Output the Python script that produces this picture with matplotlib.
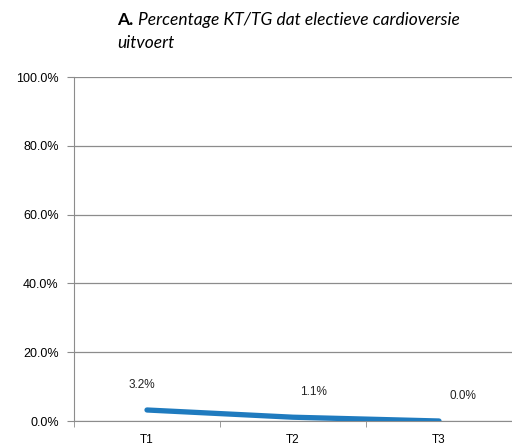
import matplotlib.pyplot as plt
import numpy as np

categories = ['T1', 'T2', 'T3']
values = [3.2, 1.1, 0.0]
labels = ['3.2%', '1.1%', '0.0%']
label_dx = [-5, 20, 24]

fig = plt.figure(figsize=(5.12, 4.44), dpi=100)
ax = fig.add_axes([74 / 512, 1 - 421 / 444, 1 - 74 / 512, (421 - 77) / 444])

x = np.arange(len(categories))
ax.plot(x, values, color='#1f7bbf', linewidth=3.8, solid_capstyle='round', zorder=3)

for i in range(len(values)):
	ax.annotate(labels[i], (x[i], values[i]), xytext=(label_dx[i] * 0.72, 18),
		textcoords='offset points', ha='center', va='center',
		fontsize=8.5, family='Liberation Sans', color='#222222')

ax.set_xlim(-0.5, 2.5)
ax.set_ylim(0, 100)
ax.set_yticks(np.arange(0, 101, 20))
ax.set_yticklabels(['%.1f%%' % v for v in np.arange(0, 101, 20)], family='Liberation Sans', fontsize=9)
ax.grid(axis='y', color='#8c8c8c', linewidth=0.9)
ax.set_axisbelow(True)

ax.set_xticks(x)
ax.set_xticklabels(categories, family='Liberation Sans', fontsize=8.5)
ax.set_xticks([-0.5, 0.5, 1.5, 2.5], minor=True)
ax.tick_params(axis='x', which='major', length=0, pad=9)
ax.tick_params(axis='x', which='minor', length=4, color='#8c8c8c', direction='out')
ax.tick_params(axis='y', length=5, color='#8c8c8c', pad=6)

for s in ['top', 'right']:
	ax.spines[s].set_visible(False)
ax.spines['left'].set_color('#8c8c8c')
ax.spines['bottom'].set_color('#8c8c8c')

fig.text(117 / 512, 1 - 20 / 444, 'A.', fontsize=12.5, fontweight='bold', family='Lato', va='center')
fig.text(138 / 512, 1 - 20 / 444, 'Percentage KT/TG dat electieve cardioversie', fontsize=12.5,
	style='italic', family='Lato', va='center')
fig.text(117 / 512, 1 - 43 / 444, 'uitvoert', fontsize=12.5, style='italic', family='Lato', va='center')

fig.savefig('out.png', dpi=100)
